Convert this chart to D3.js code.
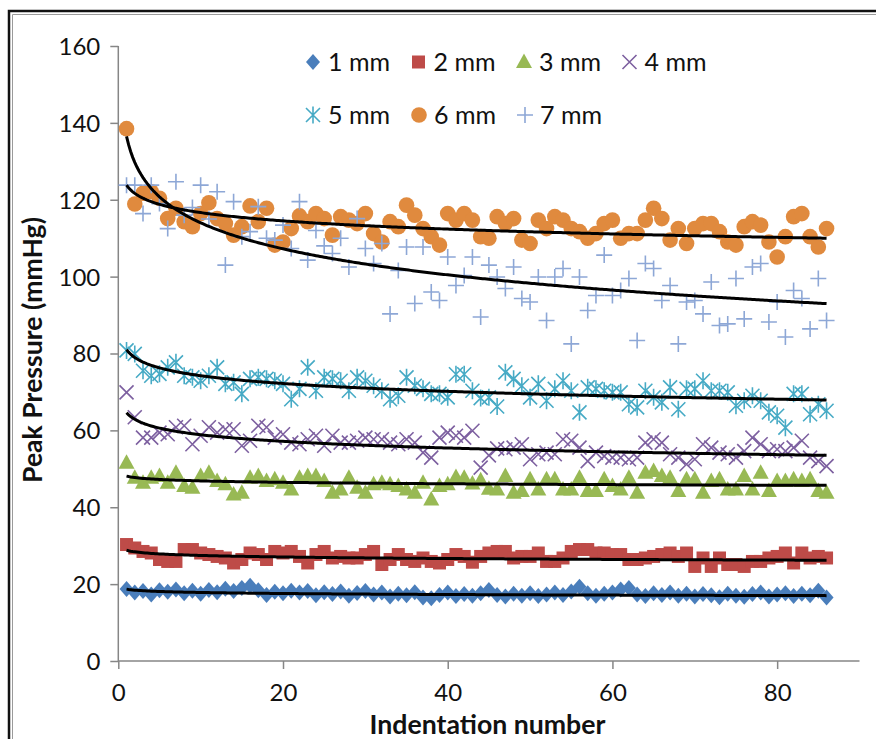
<!DOCTYPE html>
<html><head><meta charset="utf-8">
<script src="https://cdn.jsdelivr.net/npm/d3@7"></script>
<style>body{margin:0;background:#fff}svg{display:block}</style>
</head><body>
<svg id="chart" width="876" height="739"></svg>
<script>
// ---------- DATA ----------
const indentation = d3.range(1, 87); // indentation numbers 1..86
const series1mm = [18.7,17.8,18.2,17.3,18.4,18.0,18.6,17.6,18.3,17.5,
18.5,17.9,18.8,18.2,19.0,19.6,18.4,17.2,18.0,17.6,
18.3,17.8,18.2,17.1,17.9,17.4,18.1,17.0,17.7,18.2,
17.3,17.8,16.8,17.5,17.1,17.9,16.5,16.3,17.2,17.8,
16.9,17.4,17.0,17.6,18.5,17.2,16.8,17.5,17.0,17.6,
16.9,17.3,17.8,17.2,18.1,19.3,17.6,17.0,17.5,17.8,
18.6,19.0,17.3,16.9,17.6,17.2,17.8,17.0,17.5,16.8,
17.4,17.1,16.6,17.5,17.0,16.7,17.4,17.8,16.8,17.3,
17.6,16.9,17.5,17.1,18.3,16.5];
const series2mm = [30.3,29.4,28.5,28.1,26.4,25.9,25.9,29.0,29.0,28.1,
27.7,27.2,26.8,25.5,26.4,28.1,27.7,26.4,28.5,28.1,
28.5,27.2,25.5,27.7,28.5,26.8,27.2,26.8,26.8,27.7,
28.5,25.1,26.4,27.7,26.4,25.9,26.8,25.9,25.5,26.4,
27.7,27.2,25.7,27.2,28.1,28.5,28.5,26.8,27.2,27.2,
28.1,25.9,25.9,26.8,28.5,29.0,29.0,28.1,28.1,27.7,
27.7,26.4,26.4,26.8,27.2,27.7,28.1,27.2,28.1,24.6,
26.8,24.6,26.8,25.1,25.1,24.6,25.9,25.9,26.8,27.2,
28.1,25.5,28.1,26.8,27.2,26.8];
const series3mm = [51.6,47.7,46.4,47.7,48.1,46.4,49.0,45.5,45.1,48.1,
49.0,46.8,46.0,43.3,43.8,47.7,48.1,46.8,47.3,46.4,
44.6,47.7,48.1,48.1,46.8,43.8,44.6,47.7,45.1,43.8,
46.0,46.4,46.0,45.5,44.6,43.8,46.4,42.0,45.5,46.0,
47.9,47.7,46.2,47.0,44.8,44.6,48.1,43.8,44.2,47.3,
44.6,47.3,47.3,44.6,44.6,47.7,44.2,44.2,47.3,45.5,
44.6,47.7,43.8,49.0,49.4,48.1,47.7,44.2,47.3,47.3,
43.8,46.8,47.3,44.6,44.6,48.1,44.6,49.0,44.2,46.8,
46.8,47.3,46.8,47.3,44.2,43.8];
const series4mm = [69.9,63.4,58.1,58.1,59.4,59.0,60.8,61.2,56.4,58.6,
60.8,59.4,60.3,60.3,56.0,57.3,61.2,60.8,58.1,59.0,
56.8,56.4,57.7,58.6,56.0,58.6,56.8,56.8,57.3,58.1,
57.7,57.7,56.8,56.4,57.7,56.8,54.2,52.9,58.1,59.4,
58.6,58.1,59.9,50.3,53.5,55.3,55.1,55.5,56.4,52.5,
53.8,54.2,53.8,57.7,57.3,55.5,52.0,54.2,53.3,52.9,
52.9,52.5,52.9,56.8,57.7,56.8,53.8,52.9,51.2,52.5,
56.4,55.5,54.2,53.8,52.9,54.6,58.1,56.4,54.6,55.1,
54.6,55.5,57.3,52.9,52.0,50.7];
const series5mm = [80.8,79.9,75.5,74.2,74.7,76.4,77.7,74.2,73.8,72.9,
74.2,76.4,72.1,72.5,69.5,73.4,73.8,73.4,72.9,72.1,
68.1,70.8,76.4,70.3,73.8,73.4,72.9,70.3,73.8,72.9,
71.6,70.3,68.1,69.0,73.8,71.6,70.8,69.5,69.5,68.6,
74.6,74.6,70.3,68.4,68.6,66.2,75.1,73.4,71.6,68.6,
72.1,67.7,70.8,72.9,70.3,64.7,71.2,70.8,70.3,69.9,
69.9,66.8,66.0,70.3,68.6,67.3,71.2,65.5,70.8,70.8,
72.9,70.3,70.3,69.9,66.4,67.7,69.0,67.7,64.7,63.8,
60.7,69.5,69.5,64.2,66.8,65.1];
const series6mm = [138.5,118.9,121.7,122.1,120.4,115.1,117.8,114.3,113.0,116.4,
119.2,115.1,113.8,110.8,113.0,118.4,114.3,117.8,108.2,109.0,
112.5,115.8,114.3,116.4,115.1,110.8,115.6,114.7,113.8,116.4,
111.2,109.0,114.3,113.0,118.6,116.0,112.5,110.4,108.2,116.4,
114.7,116.4,114.7,110.4,110.0,115.6,113.8,115.1,109.5,108.6,
114.7,112.5,115.6,114.7,112.5,111.7,110.0,111.2,113.8,114.7,
110.0,111.2,111.2,114.7,117.8,115.1,109.5,112.5,108.6,112.5,
113.8,113.8,111.7,109.0,108.2,113.0,114.3,113.4,109.0,105.1,
110.4,115.6,116.4,110.4,107.7,112.5];
const series7mm = [123.8,123.8,116.4,123.8,119.0,112.5,124.7,116.0,118.0,123.8,
115.0,122.1,103.0,119.5,110.4,111.7,118.2,110.0,109.5,113.4,
107.3,119.5,104.3,112.0,108.0,106.0,110.0,102.5,115.1,107.3,
103.4,108.6,90.3,101.6,107.7,93.0,107.7,96.0,93.8,105.1,
97.7,100.3,105.1,89.5,103.0,99.9,96.9,102.5,94.3,93.4,
99.9,88.6,99.9,102.1,82.5,99.9,91.2,95.1,105.6,95.1,
96.4,99.5,83.4,103.4,102.1,93.8,97.7,82.5,93.4,93.8,
90.3,98.6,87.3,87.7,99.5,89.0,102.5,103.4,88.2,93.4,
84.3,96.4,94.3,86.4,99.5,88.6];

const seriesNames = ["1 mm","2 mm","3 mm","4 mm","5 mm","6 mm","7 mm"];
const seriesValues = [series1mm, series2mm, series3mm, series4mm, series5mm, series6mm, series7mm];
const seriesColors = ["#4A7EBB","#BE4B48","#98B954","#7D60A0","#46AAC5","#E08A3E","#8DA7D6"];
const seriesShapes = ["diamond","square","triangle","x","asterisk","circle","plus"];
// logarithmic trendlines y = a + b*ln(x)
const trendIntercepts = [18.7, 28.8, 48.1, 64.6, 81.0, 123.8, 136.5];
const trendSlopes = [-0.38, -0.58, -0.54, -2.49, -2.94, -3.10, -9.77];

const yTicks = [0,20,40,60,80,100,120,140,160];
const xTicks = [0,20,40,60,80];

// ---------- LAYOUT ----------
const svg = d3.select("#chart");
const FONT = "Lato, 'Open Sans', sans-serif";
const x = d3.scaleLinear().domain([0, 90]).range([118.3, 859.5]);
const y = d3.scaleLinear().domain([0, 160]).range([661, 46]);

// frame
svg.append("path").attr("d","M9,739 L9,11 L876,11").attr("fill","none").attr("stroke","#111").attr("stroke-width",2.5);
svg.append("path").attr("d","M12.5,739 L12.5,14.5 L876,14.5").attr("fill","none").attr("stroke","#9a9a9a").attr("stroke-width",1);

// axes
const axisColor = "#868686";
const yAxis = svg.append("g").attr("transform",`translate(${x(0)},0)`)
  .call(d3.axisLeft(y).tickValues(yTicks).tickSize(8).tickPadding(10));
const xAxis = svg.append("g").attr("transform",`translate(0,${y(0)})`)
  .call(d3.axisBottom(x).tickValues(xTicks).tickSize(8).tickPadding(15));
[yAxis, xAxis].forEach(g => {
  g.select(".domain").attr("stroke", axisColor).attr("stroke-width", 1.5);
  g.selectAll(".tick line").attr("stroke", axisColor).attr("stroke-width", 1.5);
  g.selectAll(".tick text").attr("fill","#111").style("font-family",FONT).style("font-size","24px");
});
yAxis.select(".domain").attr("d", `M-0,${y(160)}V${y(0)}`);
xAxis.select(".domain").attr("d", `M${x(0)},0H${x(90)}`);
yAxis.selectAll(".tick text").attr("dy","0.35em");

// symbols
function symbolPath(shape){
  switch(shape){
    case "diamond": return "M0,-8L7,0L0,8L-7,0Z";
    case "square": return "M-6.5,-6.5H6.5V6.5H-6.5Z";
    case "triangle": return "M0,-8.5L8,6H-8Z";
    case "x": return "M-7,-7L7,7M-7,7L7,-7";
    case "asterisk": return "M-7,-7L7,7M-7,7L7,-7M0,-8.5V8.5";
    case "plus": return "M-8,0H8M0,-8V8";
  }
}
function drawMarker(g, shape, color){
  if (shape === "circle") {
    g.append("circle").attr("r",7.8).attr("fill",color);
  } else if (shape === "x" || shape === "asterisk" || shape === "plus") {
    g.append("path").attr("d",symbolPath(shape)).attr("fill","none").attr("stroke",color).attr("stroke-width",1.6);
  } else {
    g.append("path").attr("d",symbolPath(shape)).attr("fill",color);
  }
}

const plot = svg.append("g");
seriesValues.forEach((vals, si) => {
  const g = plot.append("g");
  vals.forEach((v, i) => {
    const m = g.append("g").attr("transform",`translate(${x(indentation[i])},${y(v)})`);
    drawMarker(m, seriesShapes[si], seriesColors[si]);
  });
});

// trendlines
const line = d3.line().x(d => x(d[0])).y(d => y(d[1])).curve(d3.curveLinear);
trendIntercepts.forEach((a, si) => {
  const b = trendSlopes[si];
  const pts = [];
  for (let t = 1; t <= 86; t += 0.25) pts.push([t, a + b * Math.log(t)]);
  svg.append("path").attr("d", line(pts)).attr("fill","none").attr("stroke","#000").attr("stroke-width",3);
});

// legend
const legendPos = [[313,62],[418.5,62],[524,62],[629.5,62],[313,115],[419,115],[525,115]];
seriesNames.forEach((name, si) => {
  const [lx, ly] = legendPos[si];
  const m = svg.append("g").attr("transform",`translate(${lx},${ly})`);
  drawMarker(m, seriesShapes[si], seriesColors[si]);
  svg.append("text").attr("x", lx + 15).attr("y", ly).attr("dy","0.35em")
    .style("font-family",FONT).style("font-size","25px").attr("fill","#111").text(name);
});

// axis titles
function fitText(t, target, fs0){
  t.style("font-size", fs0 + "px");
  const w = t.node().getComputedTextLength();
  if (w > 0) t.style("font-size", (fs0 * target / w).toFixed(2) + "px");
}
const xt = svg.append("text").attr("x", 487.5).attr("y", 734).attr("text-anchor","middle")
  .style("font-family",FONT).style("font-weight","bold").attr("fill","#111").text("Indentation number");
fitText(xt, 236, 24);
const yt = svg.append("text").attr("transform","translate(33,350) rotate(-90)").attr("text-anchor","middle")
  .attr("dy","0.35em").style("font-family",FONT).style("font-weight","bold").attr("fill","#111").text("Peak Pressure (mmHg)");
fitText(yt, 266, 22);
</script>
</body></html>
